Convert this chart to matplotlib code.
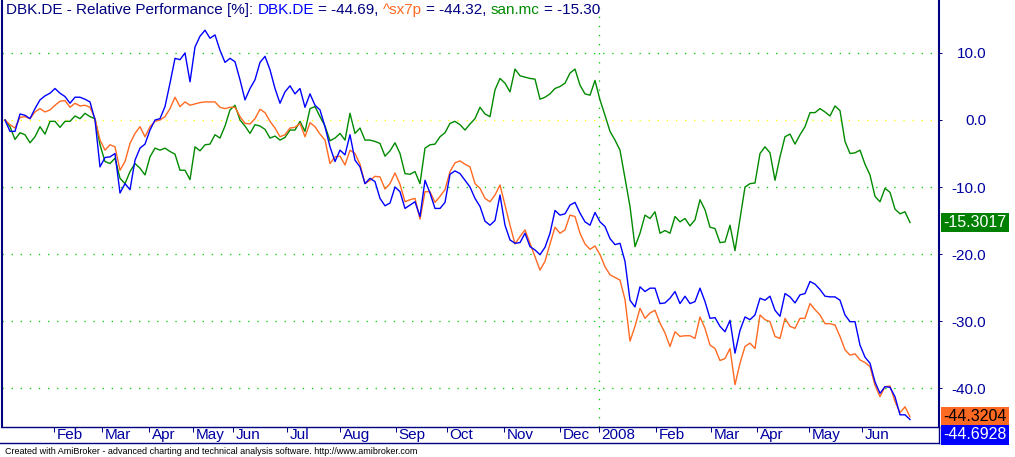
import numpy as np
import matplotlib
matplotlib.use("Agg")
import matplotlib.pyplot as plt
import matplotlib.transforms as mtrans
from matplotlib.lines import Line2D

plt.rcParams['font.family'] = ['Liberation Sans', 'DejaVu Sans']

# relative performance [%], one reading about every 2 trading days, Jan 2007 - Jun 2008
dbk = [0.0, -1.7, -1.7, 0.9, 0.7, 0.2, 1.7, 3.0, 3.6, 4.0, 4.7, 4.0, 3.5, 2.5, 3.4, 3.4, 3.1, 2.7, 0.0, -7.0,
       -5.6, -5.5, -5.0, -10.9, -9.5, -10.4, -6.0, -4.2, -3.6, -1.5, 0.0, 0.2, 2.0, 5.5, 9.2, 9.0, 10.0, 5.7, 10.9, 12.5,
       13.4, 12.2, 12.7, 10.4, 8.6, 9.2,
       8.7, 6.0, 3.0, 4.7, 6.0, 8.6, 9.5, 7.5, 4.7, 2.5, 4.2, 5.1, 3.9, 4.7, 1.9, 3.9, 2.2, 1.5, -1.0, -4.0,
       -6.2, -4.5, -5.2, -2.2, -6.0, -7.0, -9.5, -8.7, -9.2, -11.7, -12.8, -12.4, -10.0, -10.7, -13.2, -12.7, -12.2, -14.4,
       -9.0, -10.9, -13.2, -13.2, -12.3, -8.1, -7.6, -8.0,
       -9.0, -10.0, -11.7, -12.9, -15.1, -15.7, -15.0, -11.2, -15.7, -17.9, -18.4, -18.3, -16.9, -18.9, -19.4, -20.1,
       -19.0, -16.9, -13.5, -14.2, -14.0, -12.7, -12.3, -13.9, -15.2, -15.7, -13.8, -15.2, -15.9, -17.7, -18.6, -18.4,
       -21.1, -26.9, -27.9, -24.9, -25.6, -25.1, -25.1, -27.4, -27.3, -26.6, -25.6, -27.4, -26.3, -27.4,
       -27.1, -25.1, -27.1, -29.6, -29.5, -30.8, -31.6, -29.9, -34.8, -31.4, -29.4, -29.8, -29.1, -26.6, -26.9, -26.3,
       -28.4, -29.3, -25.9, -26.4, -27.3, -26.1, -25.9, -24.1, -24.5, -25.3, -26.3, -26.4, -26.4, -26.9, -29.1, -30.1,
       -30.1, -33.6, -35.4, -36.3, -39.1, -40.8, -39.8, -39.9, -41.3, -44.0, -44.0, -44.7]

sx7p = [0.0, -0.7, -1.2, 0.4, 0.5, 0.2, 1.2, 1.7, 1.2, 1.5, 2.2, 2.8, 2.9, 1.9, 2.5, 2.1, 2.2, 1.9, 0.2, -3.0,
        -4.5, -3.7, -4.0, -7.5, -6.2, -3.5, -2.0, -1.0, -2.5, -1.0, -0.2, 0.0, 0.5, 1.7, 3.4, 2.0, 2.7, 2.2, 2.4, 2.6,
        2.7, 2.7, 2.7, 1.9, 1.7, 1.9,
        1.9, 0.5, -0.5, -0.6, 0.2, 1.6, 1.1, -0.2, -1.2, -2.5, -2.2, -1.2, -1.1, -0.5, -2.5, -0.4, -1.0, -2.1, -3.0, -6.5,
        -5.5, -5.4, -6.7, -4.5, -5.0, -6.6, -9.5, -9.0, -8.4, -8.5, -10.3, -9.5, -7.9, -9.6, -12.2, -11.9, -11.7, -14.8,
        -10.7, -10.7, -12.3, -11.4, -10.4, -7.7, -6.4, -6.1,
        -6.6, -7.0, -9.5, -10.2, -11.7, -12.2, -11.2, -9.7, -12.7, -15.7, -18.5, -17.4, -16.4, -18.4, -20.4, -22.4,
        -21.1, -18.5, -16.0, -16.9, -16.4, -14.2, -14.4, -16.9, -18.5, -19.3, -18.8, -20.1, -21.9, -23.1, -23.5, -23.9,
        -26.8, -33.0, -30.8, -28.1, -29.6, -28.8, -28.4, -30.3, -31.8, -33.8, -31.6, -32.3, -32.2, -32.2,
        -32.6, -29.4, -31.1, -33.6, -34.1, -35.9, -35.6, -34.1, -39.5, -36.3, -33.8, -33.3, -34.1, -29.1, -29.8, -30.1,
        -32.3, -32.6, -29.6, -30.8, -31.1, -29.6, -29.6, -27.4, -28.3, -29.1, -30.4, -30.4, -30.6, -32.3, -34.3, -35.1,
        -34.9, -35.8, -36.2, -36.8, -39.6, -41.3, -39.8, -39.7, -42.0, -43.7, -42.8, -44.3]

san = [0.0, -1.0, -2.9, -1.9, -2.2, -3.4, -2.5, -1.0, -2.1, -0.2, -0.2, -1.1, -0.2, -0.2, 0.6, 0.2, 1.0, 0.5, 0.2, -3.7,
       -6.2, -6.5, -5.7, -8.7, -9.5, -7.7, -6.5, -7.2, -8.2, -5.5, -4.2, -4.5, -4.2, -4.7, -5.1, -7.5, -7.5, -8.9, -4.0, -4.6,
       -3.7, -3.6, -2.2, -2.7, -0.9, 1.5,
       2.2, 0.0, -0.9, -2.0, -0.7, -0.9, -1.4, -2.7, -2.4, -3.0, -2.6, -1.5, -1.5, -0.2, -1.7, 1.7, 2.0, 0.5, -0.9, -3.1,
       -2.7, -2.0, -3.0, 1.0, -2.0, -1.2, -3.0, -3.0, -3.2, -3.5, -5.4, -4.6, -3.4, -5.0, -8.0, -8.1, -7.7, -9.5,
       -4.2, -3.7, -3.6, -2.5, -1.9, -0.5, -0.2, -0.7,
       -1.5, -0.6, 0.2, 1.9, 0.9, 0.5, 4.5, 6.2, 5.5, 4.2, 7.6, 6.6, 6.4, 6.2, 6.1, 3.1,
       3.4, 3.9, 4.7, 5.0, 5.5, 7.0, 7.6, 5.2, 3.9, 3.7, 5.9, 3.0, 0.7, -1.7, -3.0, -4.5,
       -8.7, -12.9, -18.9, -16.9, -14.2, -14.7, -13.7, -16.9, -16.5, -16.9, -14.4, -15.2, -14.7, -15.8,
       -14.9, -11.9, -13.4, -16.0, -16.2, -18.3, -18.2, -15.7, -19.5, -14.7, -10.0, -9.5, -9.4, -5.0, -4.0, -4.9,
       -9.0, -5.5, -2.5, -2.1, -3.6, -2.2, -1.0, 1.1, 1.1, 1.7, 1.2, 0.6, 2.1, 1.4, -3.2, -5.0,
       -4.9, -4.5, -6.6, -8.2, -11.4, -12.2, -10.2, -10.8, -13.3, -14.0, -13.7, -15.3]

last_dbk, last_sx7p, last_san = -44.6928, -44.3204, -15.3017

month_labels = ['Feb', 'Mar', 'Apr', 'May', 'Jun', 'Jul', 'Aug', 'Sep', 'Oct', 'Nov', 'Dec',
                '2008', 'Feb', 'Mar', 'Apr', 'May', 'Jun']
# month starts, in reading index units
month_pos = [9.8, 19.3, 28.7, 37.6, 45.5, 56.4, 66.9, 78.1, 88.3, 99.8, 110.9,
             118.7, 130.1, 141.1, 150.4, 160.8, 171.4]
y_ticks = [10, 0, -10, -20, -30, -40]

BLUE = '#0000FF'
ORANGE = '#FF6A22'
GREEN = '#008A00'
NAVY = '#000080'
LBL = '#0000A0'
GRID = '#00D000'
PX = 0.72  # one pixel in points

W, H = 1015, 457
fig = plt.figure(figsize=(W / 100, H / 100), dpi=100)
ax = fig.add_axes([2 / W, 1 - 427 / H, 937 / W, 427 / H])

ax.plot(np.arange(len(san)), san, color=GREEN, lw=1.0)
ax.plot(np.arange(len(sx7p)), sx7p, color=ORANGE, lw=1.0)
ax.plot(np.arange(len(dbk)), dbk, color=BLUE, lw=1.0)

ax.set_xlim(-0.6, 186.8)
ax.set_ylim(-45.82, 17.91)

for v in y_ticks:
    ax.axhline(v, color='#FFFF00' if v == 0 else GRID, lw=1.3 * PX, ls=(0, (1, 6)), zorder=0)
ax.axvline(month_pos[month_labels.index('2008')], color=GRID, lw=1.3 * PX, ls=(0, (1, 6)), zorder=0)

for side in ['left', 'right']:
    ax.spines[side].set_color(NAVY)
    ax.spines[side].set_linewidth(1.5)
ax.spines['bottom'].set_color(NAVY)
ax.spines['bottom'].set_linewidth(1.0)
ax.spines['top'].set_visible(False)

ax.yaxis.tick_right()
ax.set_yticks(y_ticks)
ax.set_yticklabels(['%.1f' % v for v in y_ticks])
ax.tick_params(axis='y', direction='out', length=3 * PX, width=PX, color=NAVY,
               labelcolor=LBL, labelsize=11, pad=(986 - 939 - 3) * PX)
for t in ax.get_yticklabels():
    t.set_ha('right')

ax.set_xticks(month_pos)
ax.tick_params(axis='x', direction='out', length=5 * PX, width=PX, color=NAVY, labelbottom=False)
lab_tr = mtrans.blended_transform_factory(ax.transData, fig.transFigure) + \
    mtrans.ScaledTranslation(3 / 100, 0, fig.dpi_scale_trans)
for pos, lab in zip(month_pos, month_labels):
    ax.text(pos, 1 - 435 / H, lab, transform=lab_tr, ha='left', va='center',
            color=LBL, fontsize=11, clip_on=False)

# bottom of the month strip
fig.add_artist(Line2D([0, 939 / W], [1 - 443 / H] * 2, transform=fig.transFigure, color=NAVY, lw=1.0))
fig.add_artist(Line2D([939 / W] * 2, [1 - 427 / H, 1 - 443 / H], transform=fig.transFigure, color=NAVY, lw=1.0))

# last-value boxes on the right
box_tr = mtrans.blended_transform_factory(ax.transAxes, ax.transData)
for val, face, tc, dy in [(last_san, '#008000', 'white', 0),
                          (last_sx7p, '#FF6A22', 'black', 0),
                          (last_dbk, '#0000FF', 'white', -15.5)]:
    ax.annotate('%.4f' % val, xy=(1, val), xycoords=box_tr, xytext=(4 * PX, dy * PX),
                textcoords='offset points', ha='left', va='center', color=tc, fontsize=11.5,
                bbox=dict(boxstyle='square,pad=0.15', fc=face, ec='none'), annotation_clip=False)

# title built from coloured pieces
renderer = fig.canvas.get_renderer()
probe1 = fig.text(0, 0, 'x x', fontsize=11)
probe2 = fig.text(0, 0, 'xx', fontsize=11)
space = probe1.get_window_extent(renderer).width - probe2.get_window_extent(renderer).width
probe1.remove()
probe2.remove()

title_parts = [('DBK.DE - Relative Performance [%]:', NAVY), ('DBK.DE', BLUE), ('= -44.69,', NAVY),
               ('^sx7p', ORANGE), ('= -44.32,', NAVY), ('san.mc', GREEN), ('= -15.30', NAVY)]
xpos = 6
for txt, col in title_parts:
    t = fig.text(xpos / W, 1 - 10 / H, txt, color=col, fontsize=11, ha='left', va='center')
    xpos = t.get_window_extent(renderer).x1 + space

fig.text(5 / W, 1 - 451 / H,
         'Created with AmiBroker - advanced charting and technical analysis software. http://www.amibroker.com',
         fontsize=6.5, color='black', ha='left', va='center')

fig.savefig('out.png', dpi=100, facecolor='white')
